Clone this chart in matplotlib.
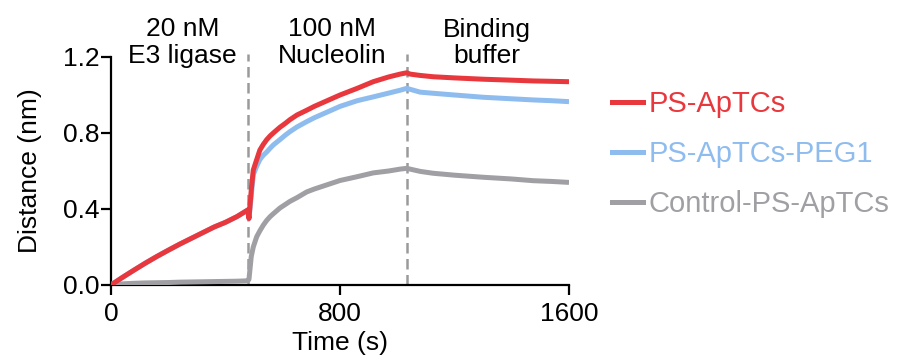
import matplotlib
matplotlib.use("Agg")
import matplotlib.pyplot as plt
import matplotlib.transforms as mtransforms

plt.rcParams['font.family'] = ['Liberation Sans', 'DejaVu Sans']

# sensorgram samples (s, nm)
t = [0, 40, 80, 120, 160, 200, 240, 280, 320, 360, 400, 440, 478,
     482, 490, 497, 509, 520, 532, 544, 556, 567, 590, 610, 625, 650, 684, 710, 740, 770, 800,
     860, 916, 970, 1010, 1033,
     1045, 1080, 1126, 1200, 1301, 1400, 1475, 1540, 1600]
ps_aptcs = [0.0, 0.04, 0.078, 0.115, 0.15, 0.183, 0.215, 0.245, 0.275, 0.305, 0.33, 0.36, 0.395,
            0.35, 0.50, 0.605, 0.66, 0.71, 0.74, 0.765, 0.785, 0.80, 0.83, 0.852, 0.87, 0.895, 0.92, 0.94, 0.96, 0.98, 1.0,
            1.035, 1.07, 1.095, 1.11, 1.117,
            1.11, 1.103, 1.096, 1.09, 1.083, 1.078, 1.074, 1.072, 1.07]
ps_aptcs_peg1 = [0.0, 0.04, 0.078, 0.115, 0.15, 0.183, 0.215, 0.245, 0.275, 0.305, 0.33, 0.36, 0.395,
                 0.35, 0.47, 0.58, 0.625, 0.66, 0.683, 0.70, 0.72, 0.737, 0.765, 0.79, 0.807, 0.832, 0.86, 0.88, 0.90, 0.92, 0.94,
                 0.97, 0.99, 1.01, 1.025, 1.035,
                 1.03, 1.015, 1.009, 1.0, 0.988, 0.98, 0.974, 0.97, 0.965]
control = [0.0, 0.006, 0.009, 0.011, 0.012, 0.013, 0.015, 0.016, 0.017, 0.018, 0.019, 0.02, 0.022,
           0.03, 0.15, 0.20, 0.254, 0.285, 0.315, 0.34, 0.36, 0.375, 0.405, 0.425, 0.44, 0.46, 0.49, 0.505, 0.52, 0.535, 0.55,
           0.57, 0.59, 0.60, 0.61, 0.614,
           0.61, 0.598, 0.588, 0.578, 0.567, 0.558, 0.549, 0.545, 0.54]

phase_edges = [480, 1033]
phase_centers = [250, 772, 1313]
phase_labels = [("20 nM", "E3 ligase"), ("100 nM", "Nucleolin"), ("Binding", "buffer")]

series = [("PS-ApTCs", ps_aptcs, "#e8383d"),
          ("PS-ApTCs-PEG1", ps_aptcs_peg1, "#8ebcef"),
          ("Control-PS-ApTCs", control, "#a0a0a4")]

fig = plt.figure(figsize=(8.99, 3.63), dpi=100)
ax = fig.add_axes([111 / 899, 1 - 285 / 363, (569 - 111) / 899, (285 - 57) / 363])
ax.set_xlim(0, 1600)
ax.set_ylim(0, 1.2)

for x in phase_edges:
    ax.plot([x, x], [0, 1.215], color="#9a9a9a", lw=1.8, ls=(0, (4.2, 2.2)),
            clip_on=False, zorder=1)

# draw PEG1 first so PS-ApTCs sits on top of it
for idx in [2, 1, 0]:
    name, vals, col = series[idx]
    ax.plot(t, vals, color=col, lw=3.6, solid_capstyle='butt', zorder=3 + (2 - idx))

handles = [plt.Line2D([], [], color=c, lw=3.6) for _, _, c in series]
leg = ax.legend(handles, [n for n, _, _ in series], loc='center left',
                bbox_to_anchor=(612 / 899, 1 - 154 / 363), bbox_transform=fig.transFigure,
                frameon=False, fontsize=21, handlelength=1.06, handletextpad=0.2,
                labelspacing=0.76, borderpad=0, borderaxespad=0)
for txt, (_, _, c) in zip(leg.get_texts(), series):
    txt.set_color(c)

# phase annotations above the axes
trans = mtransforms.blended_transform_factory(ax.transData, fig.transFigure)
for xc, (l1, l2) in zip(phase_centers, phase_labels):
    ax.text(xc, 1 - 36.5 / 363, l1, transform=trans, ha='center', va='baseline', fontsize=19)
    ax.text(xc, 1 - 63.3 / 363, l2, transform=trans, ha='center', va='baseline', fontsize=19)

ax.set_xticks([0, 800, 1600])
ax.set_yticks([0, 0.4, 0.8, 1.2])
ax.set_yticklabels(["0.0", "0.4", "0.8", "1.2"])
ax.tick_params(labelsize=19, length=7, width=1.6, direction='out')
ax.tick_params(axis='x', pad=5)
ax.tick_params(axis='y', pad=1)
ax.spines['top'].set_visible(False)
ax.spines['right'].set_visible(False)
for s in ['left', 'bottom']:
    ax.spines[s].set_linewidth(1.6)
ax.set_xlabel("Time (s)", fontsize=19, labelpad=4)
ax.set_ylabel("Distance (nm)", fontsize=19, labelpad=15)

fig.savefig("out.png", dpi=100)
